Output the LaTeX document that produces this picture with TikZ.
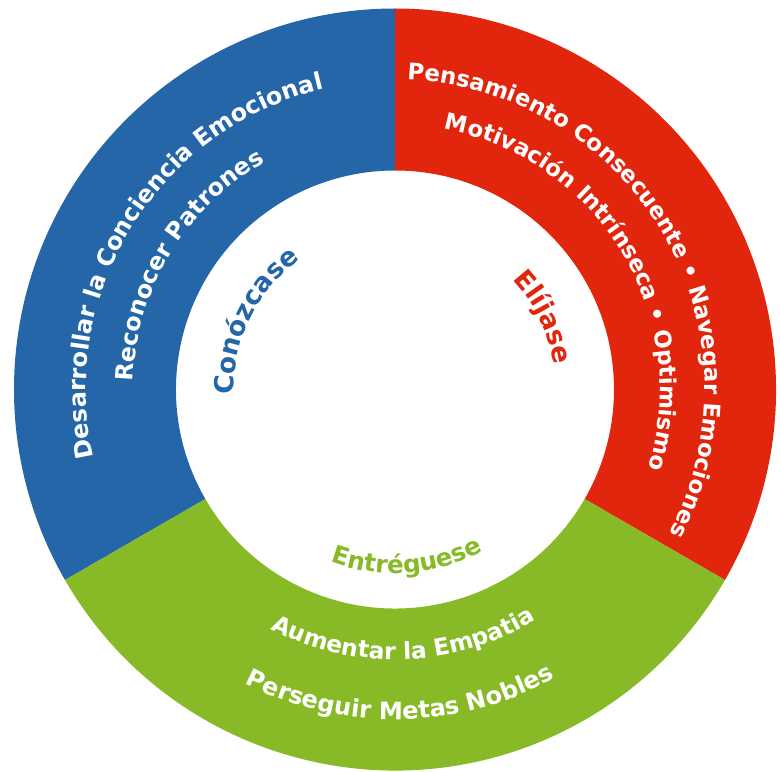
\documentclass[tikz,border=0pt]{standalone}
\usepackage{fontspec}
\setmainfont{DejaVu Sans}
\usepackage{xcolor}
\usetikzlibrary{decorations.text}
\definecolor{azul}{HTML}{2466A8}
\definecolor{rojo}{HTML}{E2260E}
\definecolor{verde}{HTML}{88BA27}

\begin{document}
\begin{tikzpicture}[x=0.02cm,y=0.02cm,
		ringtext/.style 2 args={decorate,decoration={text along path,text align=center,text color=white,
			text={|\bfseries\fontsize{#1}{17}\selectfont|#2}}},
		labeltext/.style n args={3}{decorate,decoration={text along path,text align=center,text color=#1,
			text={|\bfseries\fontsize{#2}{18}\selectfont|#3}}}]
		\useasboundingbox (-395,-381.5) rectangle (385,389.5);
		% the three parts of the ring
		\fill[azul] (90:381) arc[start angle=90,end angle=210,radius=381] -- (210:219) arc[start angle=210,end angle=90,radius=219] -- cycle;
		\fill[rojo] (-30:381) arc[start angle=-30,end angle=90,radius=381] -- (90:219) arc[start angle=90,end angle=-30,radius=219] -- cycle;
		\fill[verde] (210:381) arc[start angle=210,end angle=330,radius=381] -- (330:219) arc[start angle=330,end angle=210,radius=219] -- cycle;
		
		% texts in the ring
		\path[ringtext={13.6}{Desarrollar la Conciencia Emocional}] (208:309) arc[start angle=208,end angle=88,radius=309];
		\path[ringtext={13.5}{Reconocer Patrones}] (209:262) arc[start angle=209,end angle=89,radius=262];
		\path[ringtext={13}{Pensamiento Consecuente • Navegar Emociones}] (100:310) arc[start angle=100,end angle=-40,radius=310];
		\path[ringtext={13}{Motivación Intrínseca • Optimismo}] (101:265) arc[start angle=101,end angle=-39,radius=265];
		\path[ringtext={13.3}{Aumentar la Empatia}] (-148:270) arc[start angle=-148,end angle=-28,radius=270];
		\path[ringtext={13.7}{Perseguir Metas Nobles}] (-149:330) arc[start angle=-149,end angle=-29,radius=330];
		
		% names of the parts
		\path[labeltext={azul}{15}{Conózcase}] (214:161) arc[start angle=214,end angle=94,radius=161];
		\path[labeltext={rojo}{15}{Elíjase}] (86:161) arc[start angle=86,end angle=-34,radius=161];
		\path[labeltext={verde}{14}{Entréguese}] (-146:184) arc[start angle=-146,end angle=-26,radius=184];
	\end{tikzpicture}
\end{document}
